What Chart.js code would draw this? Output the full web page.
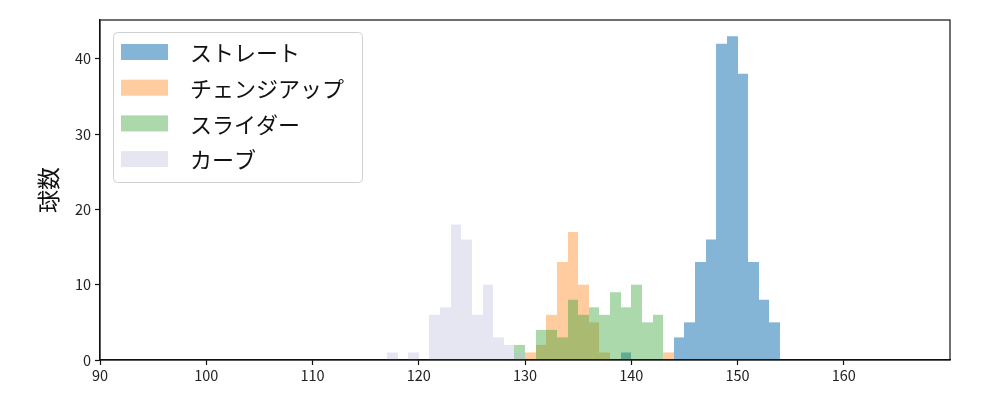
<!DOCTYPE html>
<html>
<head>
<meta charset="utf-8">
<script src="https://cdn.jsdelivr.net/npm/chart.js@4.4.1/dist/chart.umd.min.js"></script>
<style>
  html, body { margin: 0; padding: 0; background: #fff; }
  #wrap { width: 1000px; height: 400px; position: relative; }
</style>
</head>
<body>
<div id="wrap"><canvas id="chart"></canvas></div>
<script>
// bins are 1 km/h wide, value = left edge of the bin
const straightBins = [139, 144, 145, 146, 147, 148, 149, 150, 151, 152, 153];
const straightCounts = [1, 3, 5, 13, 16, 42, 43, 38, 13, 8, 5];

const changeupBins = [130, 131, 132, 133, 134, 135, 136, 137, 143];
const changeupCounts = [1, 2, 6, 13, 17, 10, 5, 1, 1];

const sliderBins = [129, 131, 132, 133, 134, 135, 136, 137, 138, 139, 140, 141, 142];
const sliderCounts = [2, 4, 4, 3, 8, 6, 7, 6, 9, 7, 10, 5, 6];

const curveBins = [117, 119, 121, 122, 123, 124, 125, 126, 127, 128, 129];
const curveCounts = [1, 1, 6, 7, 18, 16, 6, 10, 3, 2, 1];

const xTicks = [90, 100, 110, 120, 130, 140, 150, 160];
const yTicks = [0, 10, 20, 30, 40];

const FONT = '"Noto Sans CJK JP", "Noto Sans", sans-serif';
const BIN = 1;

const toPoints = (bins, counts) => bins.map((b, i) => ({ x: b + BIN / 2, y: counts[i] }));

// order: higher = drawn first (underneath), so later pitch types sit on top
function ds(label, bins, counts, color, order) {
  return {
    label,
    order,
    data: toPoints(bins, counts),
    backgroundColor: color,
    borderWidth: 0,
    inflateAmount: 0,
    grouped: false,
    barPercentage: 1,
    categoryPercentage: 1,
  };
}

// snap bar edges to whole pixels so neighbouring bins don't show seams
const snapPlugin = {
  id: 'snap',
  beforeDatasetsDraw(chart) {
    chart.data.datasets.forEach((d, i) => {
      chart.getDatasetMeta(i).data.forEach(el => {
        const l = Math.round(el.x - el.width / 2);
        const r = Math.round(el.x + el.width / 2);
        el.x = (l + r) / 2;
        el.width = r - l;
      });
    });
  }
};

// matplotlib-style frame + legend box in the upper left
const framePlugin = {
  id: 'frame',
  afterDraw(chart) {
    const { ctx, chartArea: a } = chart;
    ctx.save();
    ctx.strokeStyle = '#111';
    ctx.lineWidth = 1.2;
    ctx.strokeRect(a.left, a.top, a.right - a.left, a.bottom - a.top);

    const x0 = a.left + 13, y0 = a.top + 12, w = 249, h = 150;
    ctx.beginPath();
    ctx.roundRect(x0 + 0.5, y0 + 0.5, w, h, 4);
    ctx.fillStyle = 'rgba(255,255,255,0.8)';
    ctx.fill();
    ctx.strokeStyle = '#d0d0d0';
    ctx.lineWidth = 1;
    ctx.stroke();

    ctx.font = '22px ' + FONT;
    ctx.textBaseline = 'middle';
    chart.data.datasets.forEach((d, i) => {
      const cy = y0 + 20 + i * 35.7;
      ctx.fillStyle = d.backgroundColor;
      ctx.fillRect(x0 + 8, cy - 8, 47, 16);
      ctx.fillStyle = '#111';
      ctx.fillText(d.label, x0 + 77, cy + 1);
    });
    ctx.restore();
  }
};

new Chart(document.getElementById('chart'), {
  type: 'bar',
  data: {
    datasets: [
      ds('ストレート', straightBins, straightCounts, 'rgba(31,119,180,0.55)', 4),
      ds('チェンジアップ', changeupBins, changeupCounts, 'rgba(255,127,14,0.4)', 3),
      ds('スライダー', sliderBins, sliderCounts, 'rgba(44,160,44,0.4)', 2),
      ds('カーブ', curveBins, curveCounts, 'rgba(190,190,220,0.38)', 1),
    ],
  },
  options: {
    responsive: true,
    maintainAspectRatio: false,
    animation: false,
    layout: { padding: { top: 20, right: 50, left: 0, bottom: 0 } },
    plugins: { legend: { display: false }, tooltip: { enabled: false } },
    scales: {
      x: {
        type: 'linear',
        min: 90,
        max: 170,
        offset: false,
        afterBuildTicks: s => { s.ticks = xTicks.map(v => ({ value: v })); },
        afterFit: s => { s.height = 40; },
        ticks: { font: { size: 14.5, family: FONT }, color: '#222', padding: 2, maxRotation: 0 },
        grid: { drawOnChartArea: false, tickLength: 5, tickColor: '#111', tickWidth: 1.2, offset: false },
        border: { display: true, color: '#111', width: 1.2 },
      },
      y: {
        min: 0,
        max: 45.15,
        afterBuildTicks: s => { s.ticks = yTicks.map(v => ({ value: v })); },
        afterFit: s => { s.width = 100; },
        ticks: { font: { size: 14.5, family: FONT }, color: '#222', padding: 4 },
        grid: { drawOnChartArea: false, tickLength: 5, tickColor: '#111', tickWidth: 1.2 },
        border: { display: true, color: '#111', width: 1.2 },
        title: { display: true, text: '球数', font: { size: 23, family: FONT }, color: '#111', padding: { top: 34, bottom: 0 } },
      },
    },
  },
  plugins: [snapPlugin, framePlugin],
});
</script>
</body>
</html>
